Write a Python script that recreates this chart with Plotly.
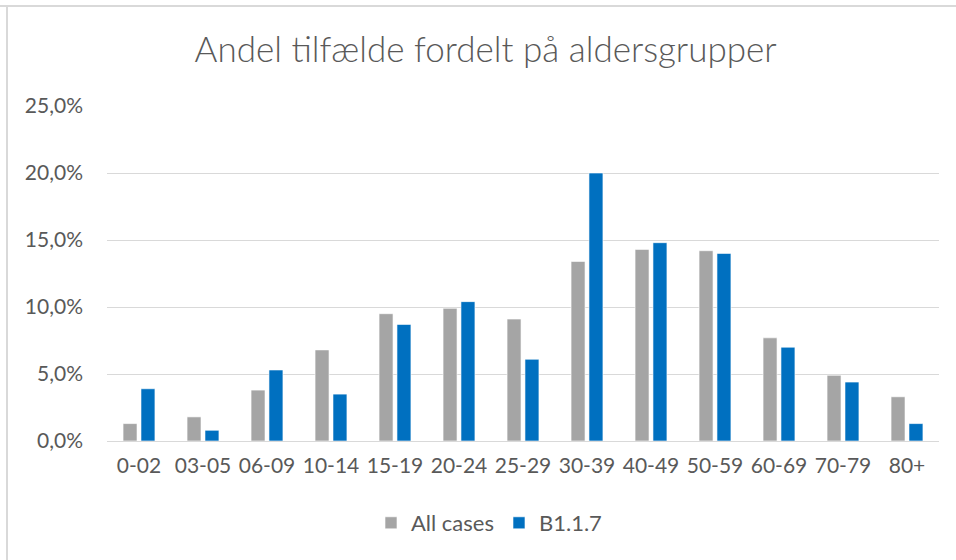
import plotly.graph_objects as go

categories = ["0-02", "03-05", "06-09", "10-14", "15-19", "20-24", "25-29",
              "30-39", "40-49", "50-59", "60-69", "70-79", "80+"]
all_cases = [1.3, 1.8, 3.8, 6.8, 9.5, 9.9, 9.1, 13.4, 14.3, 14.2, 7.7, 4.9, 3.3]
b117 = [3.9, 0.8, 5.3, 3.5, 8.7, 10.4, 6.1, 20.0, 14.8, 14.0, 7.0, 4.4, 1.3]
y_ticks = [0, 5, 10, 15, 20, 25]
y_tick_labels = ["0,0%", "5,0%", "10,0%", "15,0%", "20,0%", "25,0%"]

FONT = "Lato"
TXT = "#595959"

fig = go.Figure()
fig.add_bar(x=categories, y=all_cases, name="All cases",
            marker=dict(color="#A5A5A5", line=dict(color="white", width=0.6)))
fig.add_bar(x=categories, y=b117, name="B1.1.7",
            marker=dict(color="#0070C0", line=dict(color="white", width=0.6)))

L, R, T, B = 107, 17, 106, 119
W, H = 956, 560
pw, ph = W - L - R, H - T - B

fig.update_layout(
    width=W, height=H,
    margin=dict(l=L, r=R, t=T, b=B),
    paper_bgcolor="white", plot_bgcolor="white",
    barmode="group", bargap=0.44, bargroupgap=0.22,
    font=dict(family=FONT, color=TXT, size=21),
    title=dict(text="Andel tilfælde fordelt på aldersgrupper",
               x=0.508, xanchor="center", y=1 - 50 / H, yanchor="middle",
               font=dict(family=FONT, size=35, color=TXT, weight=300)),
    legend=dict(orientation="h", x=(489 - L) / pw, xanchor="center",
                y=-(523 - 441) / ph, yanchor="middle",
                font=dict(size=22, color=TXT), itemwidth=30,
                traceorder="normal"),
    xaxis=dict(type="category", showgrid=False, showline=False, ticks="",
               tickfont=dict(size=21, color=TXT), ticklabelstandoff=10,
               automargin=False),
    yaxis=dict(range=[0, 25], tickvals=y_ticks, ticktext=y_tick_labels,
               showgrid=True, gridcolor="#D9D9D9", gridwidth=1.3,
               zeroline=True, zerolinecolor="#D9D9D9", zerolinewidth=1.3,
               showline=False, ticks="", ticklabelstandoff=23,
               tickfont=dict(size=21, color=TXT), automargin=False),
    shapes=[
        dict(type="line", xref="paper", yref="paper",
             x0=(0 - L) / pw, x1=(W - L) / pw,
             y0=(H - B - 6) / ph, y1=(H - B - 6) / ph,
             line=dict(color="#D9D9D9", width=2)),
        dict(type="line", xref="paper", yref="paper",
             x0=(7 - L) / pw, x1=(7 - L) / pw,
             y0=(H - B - 6) / ph, y1=(H - B - H) / ph,
             line=dict(color="#D9D9D9", width=2)),
    ],
)

fig.write_html(
    "out.html",
    config={"displayModeBar": False},
    post_script="document.body.style.margin='0';document.body.style.overflow='hidden';",
)
